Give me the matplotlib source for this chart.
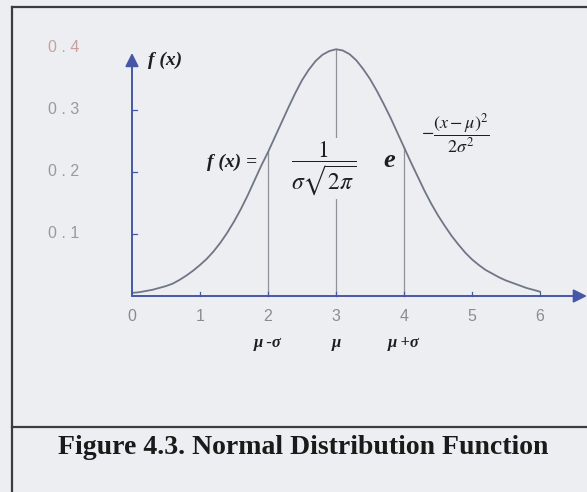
import numpy as np
import matplotlib.pyplot as plt
from matplotlib.lines import Line2D

plt.rcParams['mathtext.fontset'] = 'stix'

# bell curve sampled every tenth of a unit from 0 to 6
x = np.linspace(0, 6, 61)
fx = [0.005, 0.006, 0.008, 0.010, 0.013, 0.016, 0.020, 0.026, 0.033, 0.041,
      0.050, 0.060, 0.072, 0.086, 0.102, 0.120, 0.140, 0.162, 0.186, 0.210,
      0.232, 0.256, 0.280, 0.304, 0.327, 0.348, 0.365, 0.379, 0.389, 0.395,
      0.398, 0.396, 0.390, 0.380, 0.366, 0.350, 0.331, 0.310, 0.288, 0.264,
      0.240, 0.216, 0.193, 0.170, 0.149, 0.130, 0.113, 0.097, 0.083, 0.070,
      0.059, 0.050, 0.042, 0.036, 0.030, 0.025, 0.021, 0.017, 0.013, 0.010,
      0.007]

xticks = [0, 1, 2, 3, 4, 5, 6]
yticks = [0.1, 0.2, 0.3, 0.4]
ytick_colors = ['#9a9a9a', '#9a9a9a', '#9a9a9a', '#c9a0a0']
sigma_marks = [2, 3, 4]
sigma_labels = ['μ -σ', 'μ', 'μ +σ']
caption = 'Figure 4.3. Normal Distribution Function'

bg = '#eceef1'
axis_blue = '#4657a6'
curve_col = '#6f7686'
ink = '#1e1e1e'

fig = plt.figure(figsize=(5.87, 4.92), dpi=100, facecolor=bg)
ax = fig.add_axes([0, 0, 1, 1])
ax.set_facecolor('none')
ax.set_xlim(-132 / 68, (587 - 132) / 68)
ax.set_ylim((296 - 492) / 620, 296 / 620)
ax.axis('off')

# outer frame and caption divider
frame_kw = dict(color='#3c3c3c', lw=1.6, transform=fig.transFigure)
fig.add_artist(Line2D([12 / 587, 12 / 587], [0, 1 - 7 / 492], **frame_kw))
fig.add_artist(Line2D([12 / 587, 1], [1 - 7 / 492, 1 - 7 / 492], **frame_kw))
fig.add_artist(Line2D([12 / 587, 1], [1 - 427 / 492, 1 - 427 / 492], **frame_kw))

# axes with arrow heads
arrow_kw = dict(arrowstyle='-|>', color=axis_blue, lw=1.4,
                mutation_scale=20, shrinkA=0, shrinkB=0)
ax.annotate('', xy=(6.69, 0), xytext=(0, 0), arrowprops=arrow_kw)
ax.annotate('', xy=(0, 0.392), xytext=(0, 0), arrowprops=arrow_kw)

# small tick marks
for t in yticks[:-1]:
    ax.plot([0, 0.07], [t, t], color=axis_blue, lw=0.9)
for t in xticks[1:]:
    ax.plot([t, t], [0, 0.006], color=axis_blue, lw=0.9)

# tick labels
for t in xticks:
    ax.text(t, -0.033, str(t), ha='center', va='center', fontsize=11.5,
            color='#8c8c8c', family='Liberation Sans')
for t, c in zip(yticks, ytick_colors):
    ax.text(-1.0, t, f'{t:.1f}'.replace('.', ' . '), ha='center', va='center',
            fontsize=11.5, color=c, family='Liberation Sans')

# curve and sigma lines
ax.plot(x, fx, color=curve_col, lw=1.3, zorder=2)
serif_bi = dict(family='Liberation Serif', style='italic', weight='bold',
                color=ink)
for m, lab in zip(sigma_marks, sigma_labels):
    top = fx[int(np.argmin(np.abs(x - m)))]
    ax.plot([m, m], [0, top], color='#8d929b', lw=0.9, zorder=1)
    ax.text(m, -0.076, lab, ha='center', va='center', fontsize=12, **serif_bi)

# formula
ax.text(0.24, 0.38, 'f (x)', ha='left', va='center', fontsize=14, **serif_bi)
ax.text(1.10, 0.215, 'f (x) =', ha='left', va='center', fontsize=14,
        **serif_bi)
ax.text(2.82, 0.205, r'$\dfrac{1}{\sigma\sqrt{2\pi}}$', ha='center',
        va='center', fontsize=17, color=ink, zorder=3,
        bbox=dict(facecolor=bg, edgecolor='none', pad=1))
ax.text(3.79, 0.219, 'e', ha='center', va='center', fontsize=19, **serif_bi)
ax.text(4.75, 0.262, r'$-\dfrac{(x-\mu)^2}{2\sigma^2}$', ha='center',
        va='center', fontsize=13, color=ink)

fig.text(303 / 587, 1 - 447 / 492, caption, ha='center', va='center',
         fontsize=20, weight='bold', family='Liberation Serif',
         color='#1a1a1a')

fig.savefig('out.png', dpi=100, facecolor=bg)
